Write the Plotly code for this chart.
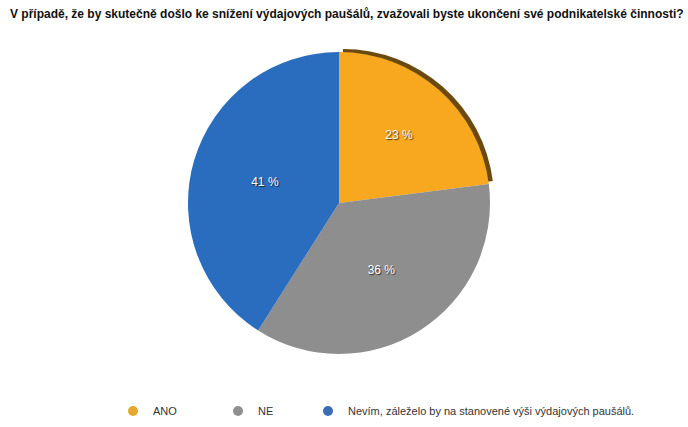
import plotly.graph_objects as go

labels = ["ANO", "NE", "Nevím, záleželo by na stanovené výši výdajových paušálů."]
values = [23, 36, 41]
slice_colors = ["#F7A81F", "#8E8E8E", "#2A6DBE"]
legend_colors = ["#E5A82E", "#909090", "#3A6DB5"]
title_text = "V případě, že by skutečně došlo ke snížení výdajových paušálů, zvažovali byste ukončení své podnikatelské činnosti?"

W, H = 688, 427
cx, cy, r = 339, 203, 151


def dom(x, y, rad):
    return dict(x=[(x - rad) / W, (x + rad) / W], y=[1 - (y + rad) / H, 1 - (y - rad) / H])


fig = go.Figure()
# shadow/extrusion of the first slice
fig.add_trace(go.Pie(
    values=values, labels=labels, sort=False, direction="clockwise",
    domain=dom(cx + 4, cy - 3, r),
    marker=dict(colors=["#6B4A12", "rgba(0,0,0,0)", "rgba(0,0,0,0)"], line=dict(width=0)),
    textinfo="none", hoverinfo="skip", showlegend=False,
))
fig.add_trace(go.Pie(
    values=values, labels=labels, sort=False, direction="clockwise",
    domain=dom(cx, cy, r),
    marker=dict(colors=slice_colors, line=dict(width=0)),
    texttemplate="%{value} %", textposition="inside", insidetextorientation="horizontal",
    textfont=dict(family="Liberation Sans, Arial", size=12, color="white",
                  shadow="1px 1px 1px rgba(0,0,0,0.7)"),
    showlegend=False,
))

legend_x = [133, 238, 328]
for i, (lab, col) in enumerate(zip(labels, legend_colors)):
    fig.add_trace(go.Scatter(
        x=[None], y=[None], mode="markers", name=lab,
        marker=dict(symbol="circle", size=10, color=col),
        legend="legend" if i == 0 else f"legend{i+1}",
    ))

layout_legends = {}
for i, lx in enumerate(legend_x):
    key = "legend" if i == 0 else f"legend{i+1}"
    layout_legends[key] = dict(
        x=(lx - 20) / W, y=1 - 411 / H, xanchor="left", yanchor="middle",
        orientation="h", bgcolor="rgba(0,0,0,0)",
        font=dict(family="Liberation Sans, Arial", size=11, color="#333333"),
    )

fig.update_layout(
    width=W, height=H,
    margin=dict(l=0, r=0, t=0, b=0),
    paper_bgcolor="white", plot_bgcolor="white",
    title=dict(text="<b>" + title_text + "</b>", x=10 / W, xanchor="left",
               y=1 - 14 / H, yanchor="middle", yref="container",
               font=dict(family="Liberation Sans, Arial", size=12, color="#111111")),
    xaxis=dict(visible=False), yaxis=dict(visible=False),
    **layout_legends,
)

fig.write_html("out.html")
